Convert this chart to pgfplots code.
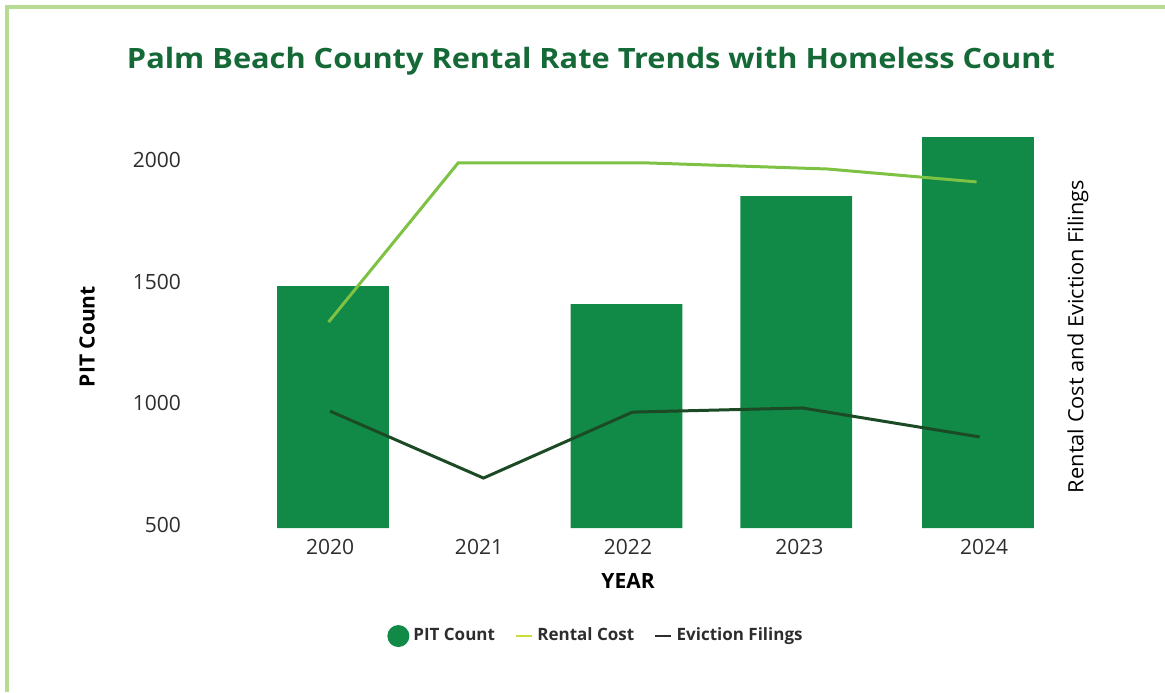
\documentclass[border=0pt]{standalone}
\usepackage{fontspec}
\setmainfont{Open Sans}
\usepackage{graphicx}
\usepackage{pgfplots}
\pgfplotsset{compat=1.18}
\definecolor{pitgreen}{RGB}{17,137,71}
\definecolor{titlegreen}{RGB}{20,105,55}
\definecolor{rentgreen}{RGB}{125,194,67}
\definecolor{evict}{RGB}{28,74,37}
\definecolor{legyellow}{RGB}{205,220,57}
\definecolor{framegreen}{RGB}{183,219,146}
\definecolor{ticktext}{RGB}{45,45,45}
\begin{document}
\begin{tikzpicture}
\useasboundingbox (0pt,0pt) rectangle (582.5pt,-346pt);
\draw[framegreen, line width=2pt] (3.5pt,-346pt) -- (3.5pt,-3.5pt) -- (582.5pt,-3.5pt);
\node[titlegreen, font=\bfseries\fontsize{14}{16}\selectfont, anchor=base, inner sep=0pt] at (295.5pt,-34pt) {\resizebox{464pt}{\height}{Palm Beach County Rental Rate Trends with Homeless Count}};
\begin{axis}[
  at={(95pt,-264pt)}, anchor=south west, scale only axis,
  width=435pt, height=196.17pt,
  xmin=2019.06, xmax=2024.9, ymin=487.7, ymax=2100,
  axis line style={draw=none}, tick style={draw=none},
  xtick={2020,2021,2022,2023.15,2024.39},
  xticklabels={2020,2021,2022,2023,2024},
  ytick={500,1000,1500,2000},
  /pgf/number format/assume math mode=true,
  /pgf/number format/1000 sep={},
  ticklabel style={font=\fontsize{10.5}{12}\selectfont, text=ticktext},
  xticklabel style={yshift=-2pt},
  yticklabel style={xshift=-1pt},
  legend columns=3,
  legend style={at={(0.4678,-0.2753)}, anchor=center, draw=none, fill=none,
    font=\bfseries\fontsize{8.5}{10}\selectfont, text=ticktext,
    /tikz/every even column/.append style={column sep=8pt},
    nodes={inner sep=2pt}},
]
\addplot[ybar, bar width=0.75, fill=pitgreen, draw=none,
  legend image code/.code={\fill[pitgreen] (5.5pt,0pt) circle (5.5pt);}]
  coordinates {(2020.02,1482) (2021.99,1408) (2023.13,1852) (2024.35,2094)};
\addlegendentry{PIT Count}
\addplot[rentgreen, line width=1.5pt, mark=none,
  legend image code/.code={\draw[legyellow, line width=1.2pt] (0pt,0pt) -- (8pt,0pt);}]
  coordinates {(2019.99,1334) (2020.86,1988) (2022.13,1988) (2023.34,1963) (2024.34,1910)};
\addlegendentry{Rental Cost}
\addplot[evict, line width=1.5pt, mark=none,
  legend image code/.code={\draw[ticktext, line width=1.2pt] (0pt,0pt) -- (8pt,0pt);}]
  coordinates {(2020.00,968) (2021.03,693) (2022.03,964) (2023.17,981) (2024.36,862)};
\addlegendentry{Eviction Filings}
\end{axis}
\node[rotate=90, font=\bfseries\fontsize{10.5}{12}\selectfont, text=black] at (43.5pt,-168.3pt) {PIT Count};
\node[font=\bfseries\fontsize{10.5}{12}\selectfont, text=black] at (314pt,-290.5pt) {YEAR};
\node[rotate=90, font=\fontsize{10.5}{12}\selectfont, text=black] at (539pt,-168.25pt) {\resizebox{156.5pt}{\height}{Rental Cost and Eviction Filings}};
\end{tikzpicture}
\end{document}
